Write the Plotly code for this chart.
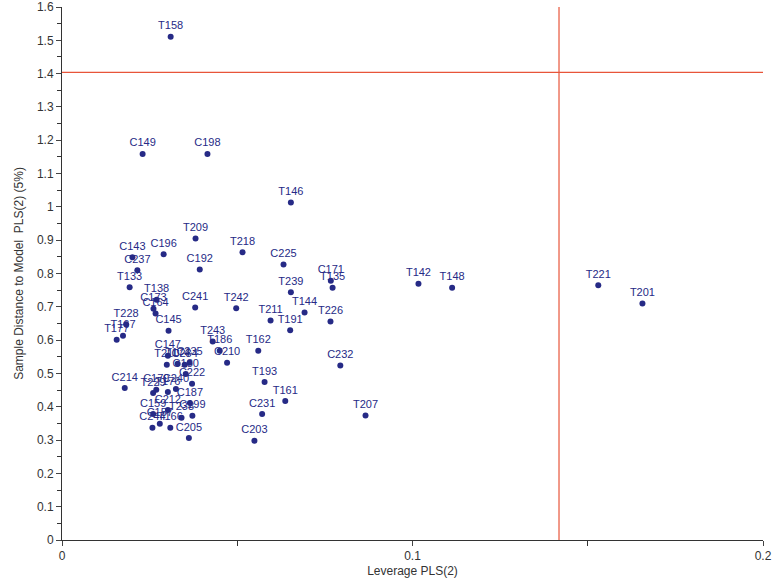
import plotly.graph_objects as go

# sample names, leverage (x) and residual distance (y)
names = ["T158", "C149", "C198", "T146", "T209", "T218", "C192", "C225", "C171", "T135",
         "T239", "C241", "T242", "T144", "T211", "T226", "T191", "T243", "T186", "T162",
         "C210", "C232", "T193", "T161", "C231", "C203", "T207", "T142", "T148", "T221",
         "T201", "C143", "C196", "C237", "T133", "T138", "C173", "C164", "T228", "T167",
         "T177", "C145", "C147", "T210", "T174", "C234", "C235", "C180", "C222", "C214",
         "C179", "T229", "T176", "C240", "C187", "C159", "C212", "T238", "C199", "C157",
         "C244", "T166", "C205"]
leverage = [0.0310, 0.0230, 0.0415, 0.0653, 0.0381, 0.0515, 0.0393, 0.0632, 0.0767, 0.0772,
            0.0653, 0.0380, 0.0497, 0.0692, 0.0595, 0.0766, 0.0651, 0.0430, 0.0450, 0.0560,
            0.0471, 0.0794, 0.0578, 0.0637, 0.0571, 0.0549, 0.0866, 0.1017, 0.1113, 0.1530,
            0.1656, 0.0201, 0.0290, 0.0215, 0.0193, 0.0270, 0.0261, 0.0267, 0.0183, 0.0174,
            0.0156, 0.0304, 0.0302, 0.0299, 0.0330, 0.0350, 0.0364, 0.0353, 0.0371, 0.0179,
            0.0269, 0.0260, 0.0302, 0.0325, 0.0365, 0.0260, 0.0302, 0.0341, 0.0372, 0.0279,
            0.0258, 0.0309, 0.0362]
distance = [1.511, 1.159, 1.159, 1.013, 0.905, 0.864, 0.812, 0.827, 0.778, 0.757,
            0.744, 0.698, 0.696, 0.683, 0.659, 0.656, 0.630, 0.596, 0.568, 0.568,
            0.532, 0.524, 0.474, 0.417, 0.378, 0.298, 0.374, 0.769, 0.757, 0.765,
            0.710, 0.849, 0.858, 0.810, 0.759, 0.721, 0.694, 0.680, 0.648, 0.613,
            0.601, 0.628, 0.553, 0.526, 0.529, 0.526, 0.532, 0.498, 0.469, 0.456,
            0.451, 0.441, 0.444, 0.453, 0.411, 0.378, 0.390, 0.367, 0.373, 0.349,
            0.337, 0.337, 0.306]

# limits (red lines)
lev_limit = 0.1418
dist_limit = 1.404

navy = "#262a86"
red = "#e8553a"
font = "Liberation Sans, Arial"

fig = go.Figure()
fig.add_trace(go.Scatter(x=leverage, y=distance, text=names, mode="markers+text",
                         textposition="top center",
                         textfont=dict(family=font, size=11, color=navy),
                         marker=dict(size=6, color=navy), showlegend=False,
                         cliponaxis=False))

fig.add_shape(type="line", x0=lev_limit, x1=lev_limit, y0=0, y1=1.6,
              line=dict(color=red, width=1.2))
fig.add_shape(type="line", x0=0, x1=0.2, y0=dist_limit, y1=dist_limit,
              line=dict(color=red, width=1.2))

fig.update_xaxes(range=[0, 0.2], dtick=0.1, ticks="outside", ticklen=5,
                 showline=True, linecolor="#333", linewidth=1, showgrid=False,
                 zeroline=False, automargin=False,
                 tickfont=dict(family=font, size=12, color="#333"),
                 minor=dict(dtick=0.05, ticks="outside", ticklen=5, tickcolor="#333"),
                 title=dict(text="Leverage PLS(2)", standoff=4,
                            font=dict(family=font, size=12, color="#333")))
fig.update_yaxes(range=[0, 1.6], dtick=0.1, ticks="outside", ticklen=5,
                 showline=True, linecolor="#333", linewidth=1, showgrid=False,
                 zeroline=False, automargin=False,
                 tickfont=dict(family=font, size=12, color="#333"),
                 minor=dict(dtick=0.05, ticks="outside", ticklen=4, tickcolor="#333"),
                 title=dict(text="Sample Distance to Model&nbsp; PLS(2) (5%)", standoff=10,
                            font=dict(family=font, size=12, color="#333")))

fig.update_layout(width=773, height=586, plot_bgcolor="white", paper_bgcolor="white",
                  margin=dict(l=62, r=10, t=7, b=46))

# page body has a default 8px margin, drop it so the chart sits at 0,0
fig.write_html("out.html", config={"displayModeBar": False},
               post_script="document.body.style.margin='0';")
